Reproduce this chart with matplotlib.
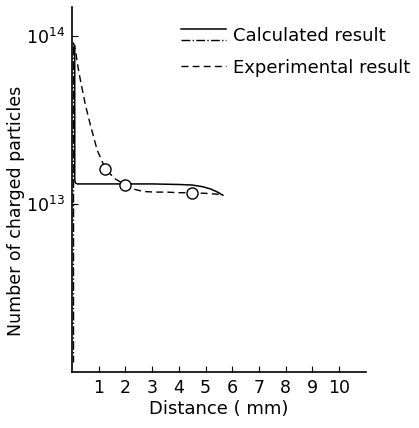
import matplotlib
matplotlib.use("Agg")
import matplotlib.pyplot as plt
from matplotlib.lines import Line2D
from matplotlib.legend_handler import HandlerBase

# values (distance in mm, number of particles)
calc_x = [0.10, 0.10, 0.12, 0.20, 0.5, 1.0, 2.0, 3.0, 4.0, 4.5, 4.9, 5.2, 5.45, 5.65]
calc_y = [8.8e13, 1.40e13, 1.34e13, 1.32e13, 1.32e13, 1.32e13, 1.32e13,
          1.32e13, 1.31e13, 1.30e13, 1.27e13, 1.23e13, 1.18e13, 1.13e13]

calc_dd_x = [0.05, 0.05]
calc_dd_y = [8.8e13, 1.15e12]

exp_x = [0.05, 0.13, 0.22, 0.32, 0.5, 0.69, 0.94, 1.25, 1.6, 2.0, 2.3, 2.67, 3.1, 3.56, 4.0, 4.5, 5.0, 5.65]
exp_y = [9.2e13, 8.2e13, 6.6e13, 5.4e13, 3.9e13, 2.95e13, 2.1e13, 1.62e13, 1.42e13, 1.30e13,
         1.23e13, 1.19e13, 1.18e13, 1.18e13, 1.17e13, 1.17e13, 1.16e13, 1.14e13]

pts_x = [1.25, 2.0, 4.5]
pts_y = [1.62e13, 1.30e13, 1.17e13]

xticks = [1, 2, 3, 4, 5, 6, 7, 8, 9, 10]
yticks = [1e13, 1e14]
yticklabels = [r"$10^{13}$", r"$10^{14}$"]


class StackedHandler(HandlerBase):
    """Draws the lines of a tuple handle one above the other."""
    def create_artists(self, legend, orig_handle, xdescent, ydescent,
                       width, height, fontsize, trans):
        artists = []
        n = len(orig_handle)
        for i, h in enumerate(orig_handle):
            y = height * (0.95 - 0.9 * i / max(n - 1, 1)) - ydescent
            line = Line2D([-xdescent, width - xdescent], [y, y],
                          color=h.get_color(), linestyle=h.get_linestyle(),
                          linewidth=h.get_linewidth())
            line.set_transform(trans)
            artists.append(line)
        return artists


plt.rcParams["font.family"] = ["DejaVu Sans"]
plt.rcParams["mathtext.fontset"] = "dejavusans"

fig = plt.figure(figsize=(4.19, 4.28), dpi=100)
ax = fig.add_axes([0.172, 0.131, 0.701, 0.853])

ax.plot(calc_dd_x, calc_dd_y, color="black", linestyle="-.", linewidth=1.0)
solid, = ax.plot(calc_x, calc_y, color="black", linestyle="-", linewidth=1.1)
dashed, = ax.plot(exp_x, exp_y, color="black", linestyle=(0, (5, 3)), linewidth=1.0)
ax.plot(pts_x, pts_y, linestyle="none", marker="o", markersize=8,
        markerfacecolor="white", markeredgecolor="black", markeredgewidth=1.0)

ax.set_yscale("log")
ax.set_xlim(0, 11)
ax.set_ylim(1.0e12, 1.5e14)
ax.set_xticks(xticks)
ax.set_xticklabels([str(t) for t in xticks])
ax.set_yticks(yticks)
ax.set_yticklabels(yticklabels)
ax.minorticks_off()
ax.tick_params(direction="in", length=4, width=0.8, labelsize=12.5, pad=5)

for side in ("top", "right"):
    ax.spines[side].set_visible(False)
for side in ("left", "bottom"):
    ax.spines[side].set_linewidth(1.2)

ax.set_xlabel("Distance ( mm)", fontsize=13, labelpad=2)
ax.set_ylabel("Number of charged particles", fontsize=12.5)
ax.yaxis.set_label_coords(-0.16, 0.44)

dd_handle = Line2D([], [], color="black", linestyle="-.", linewidth=1.0)
leg = ax.legend([(solid, dd_handle), dashed],
                ["Calculated result", "Experimental result"],
                handler_map={tuple: StackedHandler()},
                loc="upper left", bbox_to_anchor=(0.41, 0.958),
                bbox_transform=fig.transFigure,
                frameon=False, fontsize=13, handlelength=2.5,
                handletextpad=0.4, labelspacing=0.75, borderpad=0)

fig.savefig("out.png", dpi=100)
